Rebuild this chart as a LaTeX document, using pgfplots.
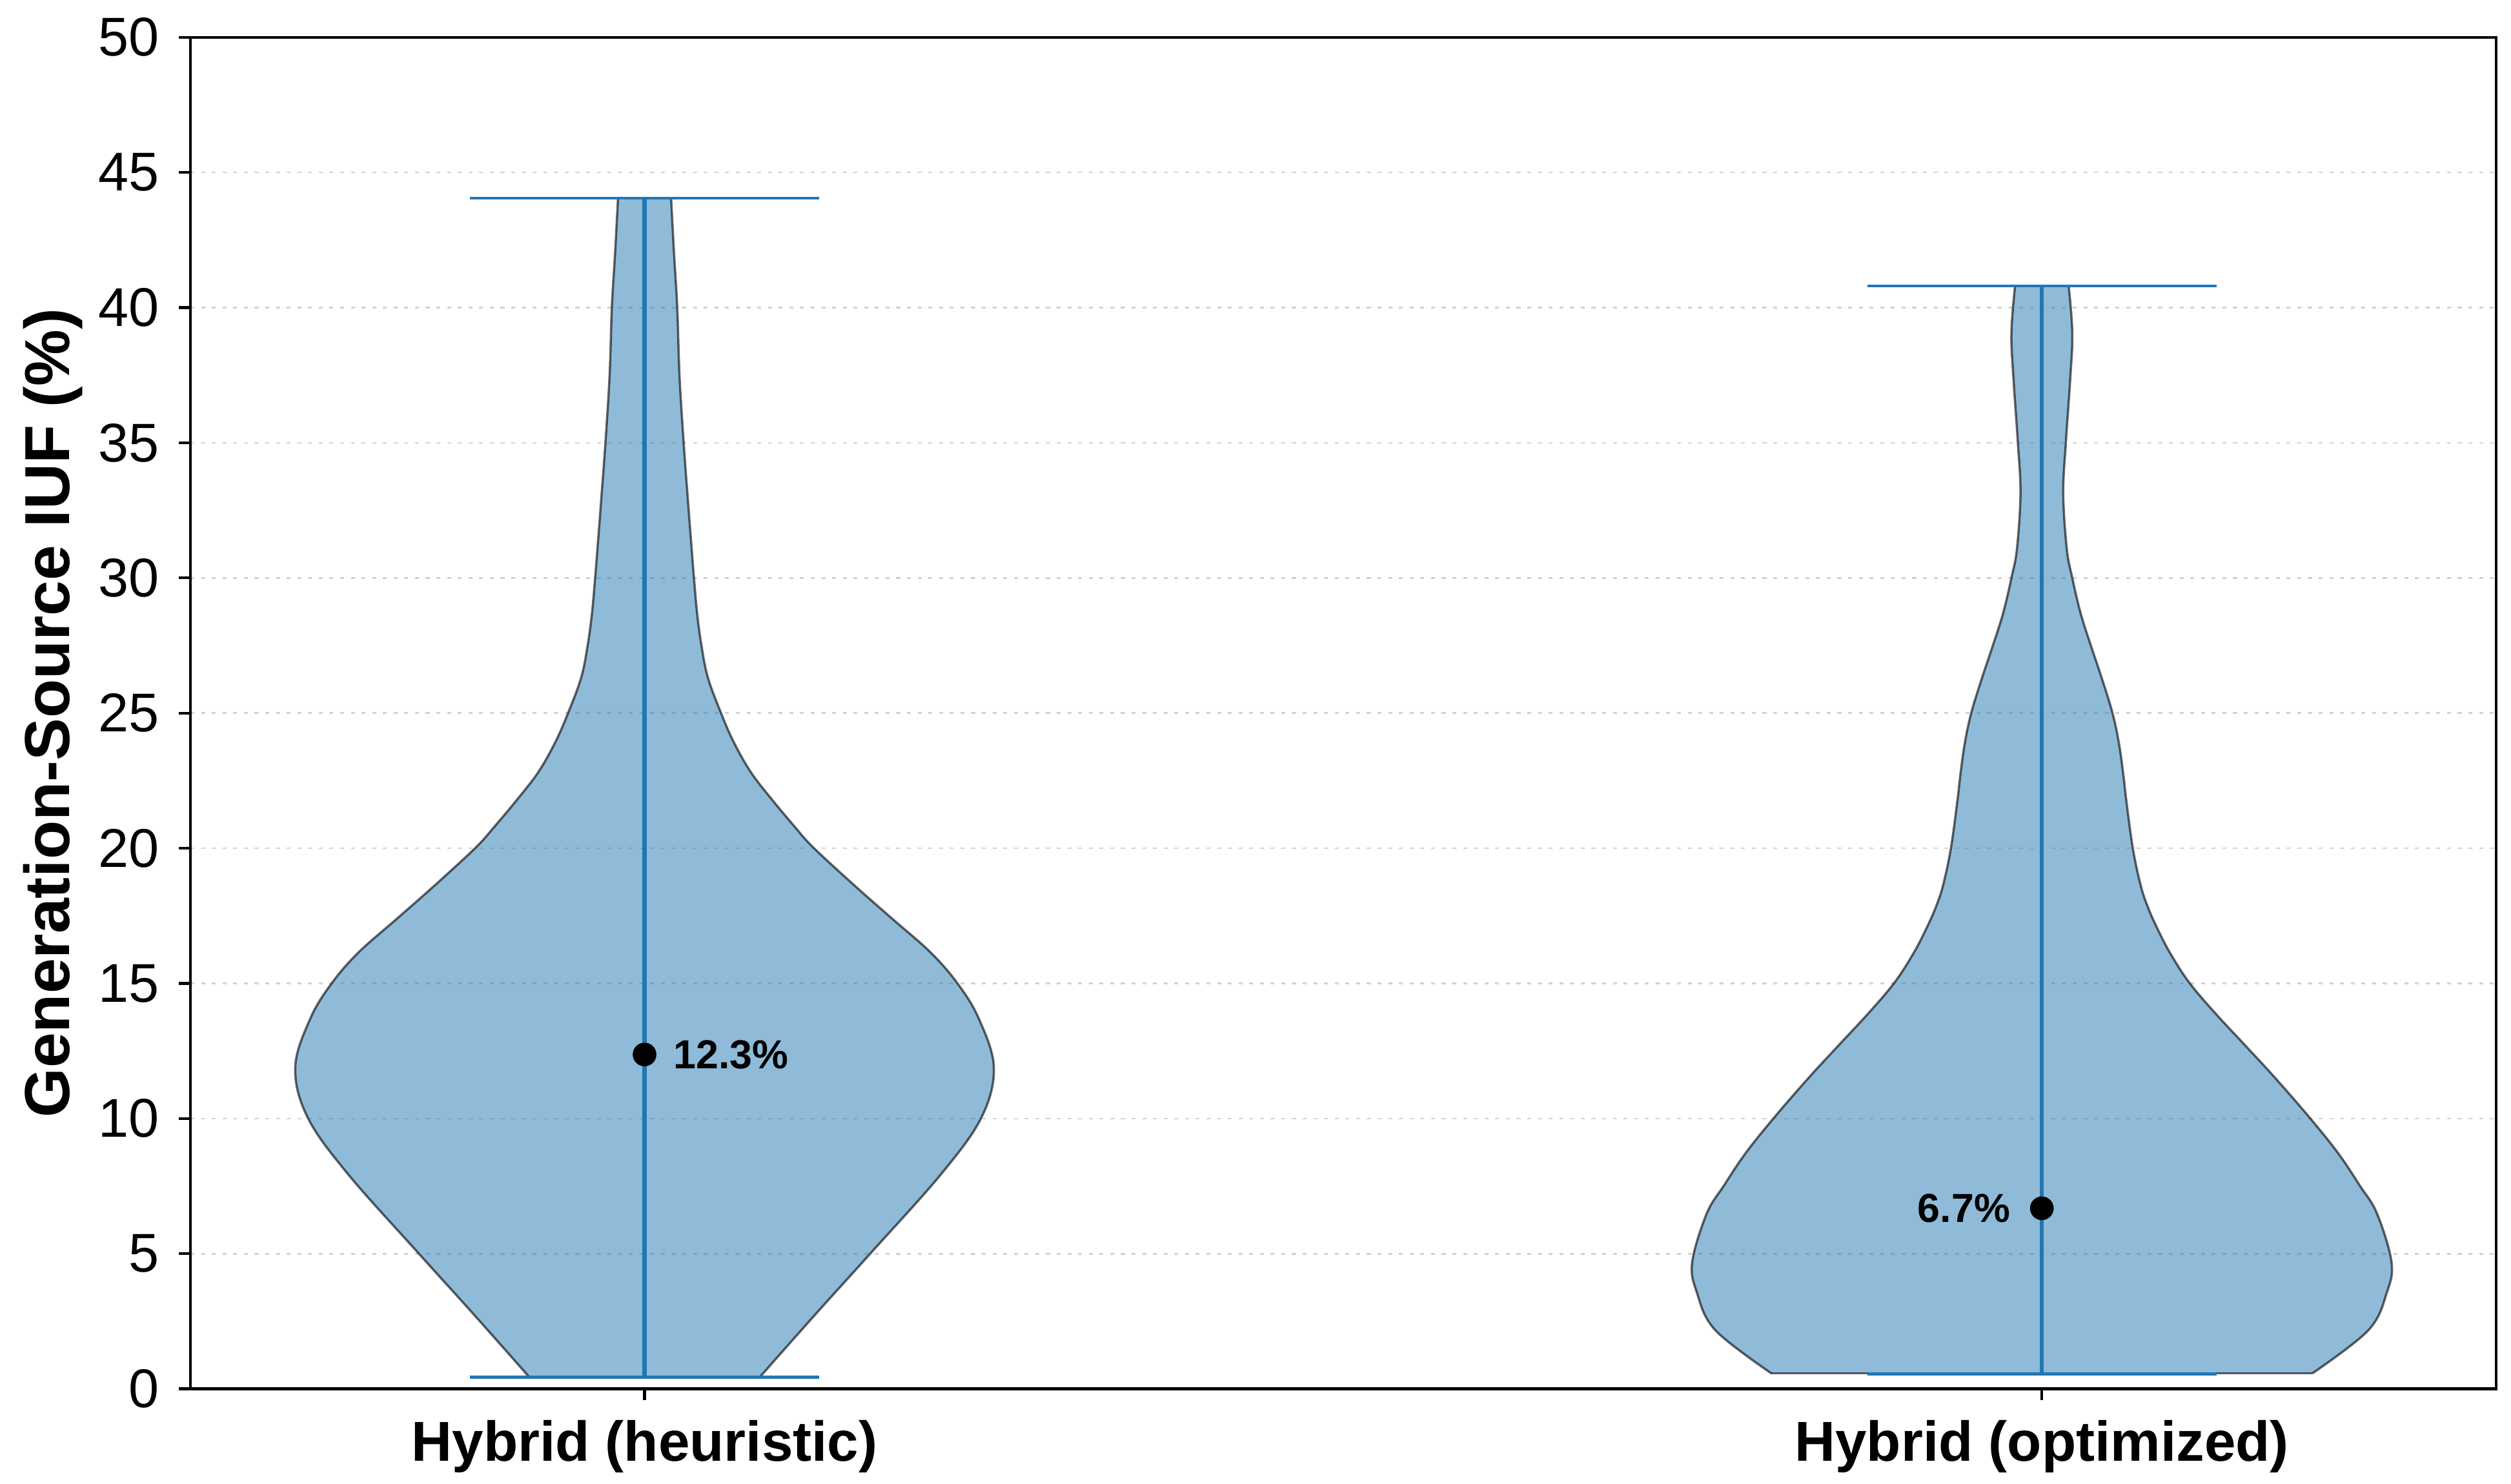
\documentclass[border=0pt]{standalone}
\usepackage{fontspec}
\setmainfont{Liberation Sans}
\usepackage{pgfplots}
\usepackage{pgfplotstable}
\pgfplotsset{compat=1.18}
\usepgfplotslibrary{fillbetween}

\definecolor{tabblue}{RGB}{31,119,180}

% half-width of each violin (x units) against IUF value
\pgfplotstableread{
y     w
0.43  0.0824
2.74  0.122
5.03  0.162
7.93  0.212
10.03 0.241
11.89 0.250
13.72 0.239
15.03 0.2235
16.16 0.2044
17.38 0.1775
18.60 0.1507
20.03 0.1207
20.83 0.1069
21.78 0.0915
22.81 0.0761
23.93 0.0638
25.03 0.0545
26.32 0.0453
27.51 0.0407
28.70 0.0376
30.04 0.0353
31.09 0.0337
32.90 0.031
35.00 0.028
37.50 0.025
40.00 0.0234
42.10 0.021
44.05 0.019
}\heur

\pgfplotstableread{
y     w
0.57  0.1935
2.17  0.2337
3.58  0.247
4.70  0.2502
6.49  0.2398
7.53  0.2274
8.72  0.2120
10.01 0.1920
11.50 0.1670
12.70 0.1456
13.89 0.1242
15.02 0.1056
16.12 0.0918
17.08 0.0822
17.87 0.0755
18.67 0.0705
20.03 0.0650
21.78 0.0604
22.81 0.0581
23.93 0.0550
25.03 0.0504
26.32 0.0427
27.51 0.0350
28.70 0.0277
30.04 0.0216
31.09 0.0178
33.14 0.0153
35.02 0.0172
37.36 0.0203
39.05 0.0218
40.80 0.0192
}\opt

\pgfplotsset{
  vedge/.style={black, draw opacity=0.6, line width=0.4pt, smooth, tension=0.6},
}

\begin{document}
\begin{tikzpicture}
\begin{axis}[
  at={(0,0)}, anchor=south west,
  scale only axis, width=14.396cm, height=8.439cm,
  xmin=0.675, xmax=2.325, ymin=0, ymax=50,
  xtick={1,2}, xticklabels={Hybrid (heuristic), Hybrid (optimized)},
  ytick={0,5,...,50},
  minor tick num=0,
  tick align=outside, xtick pos=bottom, ytick pos=left,
  major tick length=0.071cm,
  every tick/.style={black, line width=0.5pt},
  axis line style={line width=0.5pt},
  ymajorgrids,
  grid style={gray!35, line width=0.3pt, dash pattern=on 0.7pt off 1.2pt},
  /pgf/number format/assume math mode=true,
  yticklabel style={font=\fontsize{9.7}{11}\selectfont},
  xticklabel style={font=\bfseries\fontsize{10}{12}\selectfont},
  ylabel={Generation-Source IUF (\%)},
  ylabel style={font=\bfseries\fontsize{11.3}{13}\selectfont,
    at={(axis description cs:-0.0596,0.5)}, anchor=center},
  clip=false,
]
% violin 1
\addplot[vedge, name path=r1] table[x expr=1+\thisrow{w}, y=y] {\heur};
\addplot[vedge, name path=l1] table[x expr=1-\thisrow{w}, y=y] {\heur};
\addplot[fill=tabblue, fill opacity=0.5, draw=none]
  fill between[of=r1 and l1, reverse=true];
% violin 2
\addplot[vedge, name path=r2] table[x expr=2+\thisrow{w}, y=y] {\opt};
\addplot[vedge, name path=l2] table[x expr=2-\thisrow{w}, y=y] {\opt};
\addplot[fill=tabblue, fill opacity=0.5, draw=none]
  fill between[of=r2 and l2, reverse=true];
\addplot[vedge] coordinates {(1.8065,0.57) (2.1935,0.57)};

% extrema bars and caps
\addplot[tabblue, line width=0.75pt] coordinates {(1,0.43) (1,44.05)};
\addplot[tabblue, line width=0.55pt] coordinates {(0.875,44.05) (1.125,44.05)};
\addplot[tabblue, line width=0.55pt] coordinates {(0.875,0.43) (1.125,0.43)};
\addplot[tabblue, line width=0.75pt] coordinates {(2,0.56) (2,40.8)};
\addplot[tabblue, line width=0.55pt] coordinates {(1.875,40.8) (2.125,40.8)};
\addplot[tabblue, line width=0.55pt] coordinates {(1.875,0.56) (2.125,0.56)};

% means
\addplot[only marks, mark=*, mark size=1.9pt, black] coordinates {(1,12.37) (2,6.68)};
\node[anchor=west, inner sep=0pt, font=\bfseries\fontsize{7.2}{8}\selectfont]
  at (axis cs:1.02,12.37) {12.3\%};
\node[anchor=east, inner sep=0pt, font=\bfseries\fontsize{7.2}{8}\selectfont]
  at (axis cs:1.978,6.68) {6.7\%};
\end{axis}
\pgfresetboundingbox
\path[use as bounding box] (-1.189cm,-0.594cm) rectangle (14.49cm,8.672cm);
\end{tikzpicture}
\end{document}
